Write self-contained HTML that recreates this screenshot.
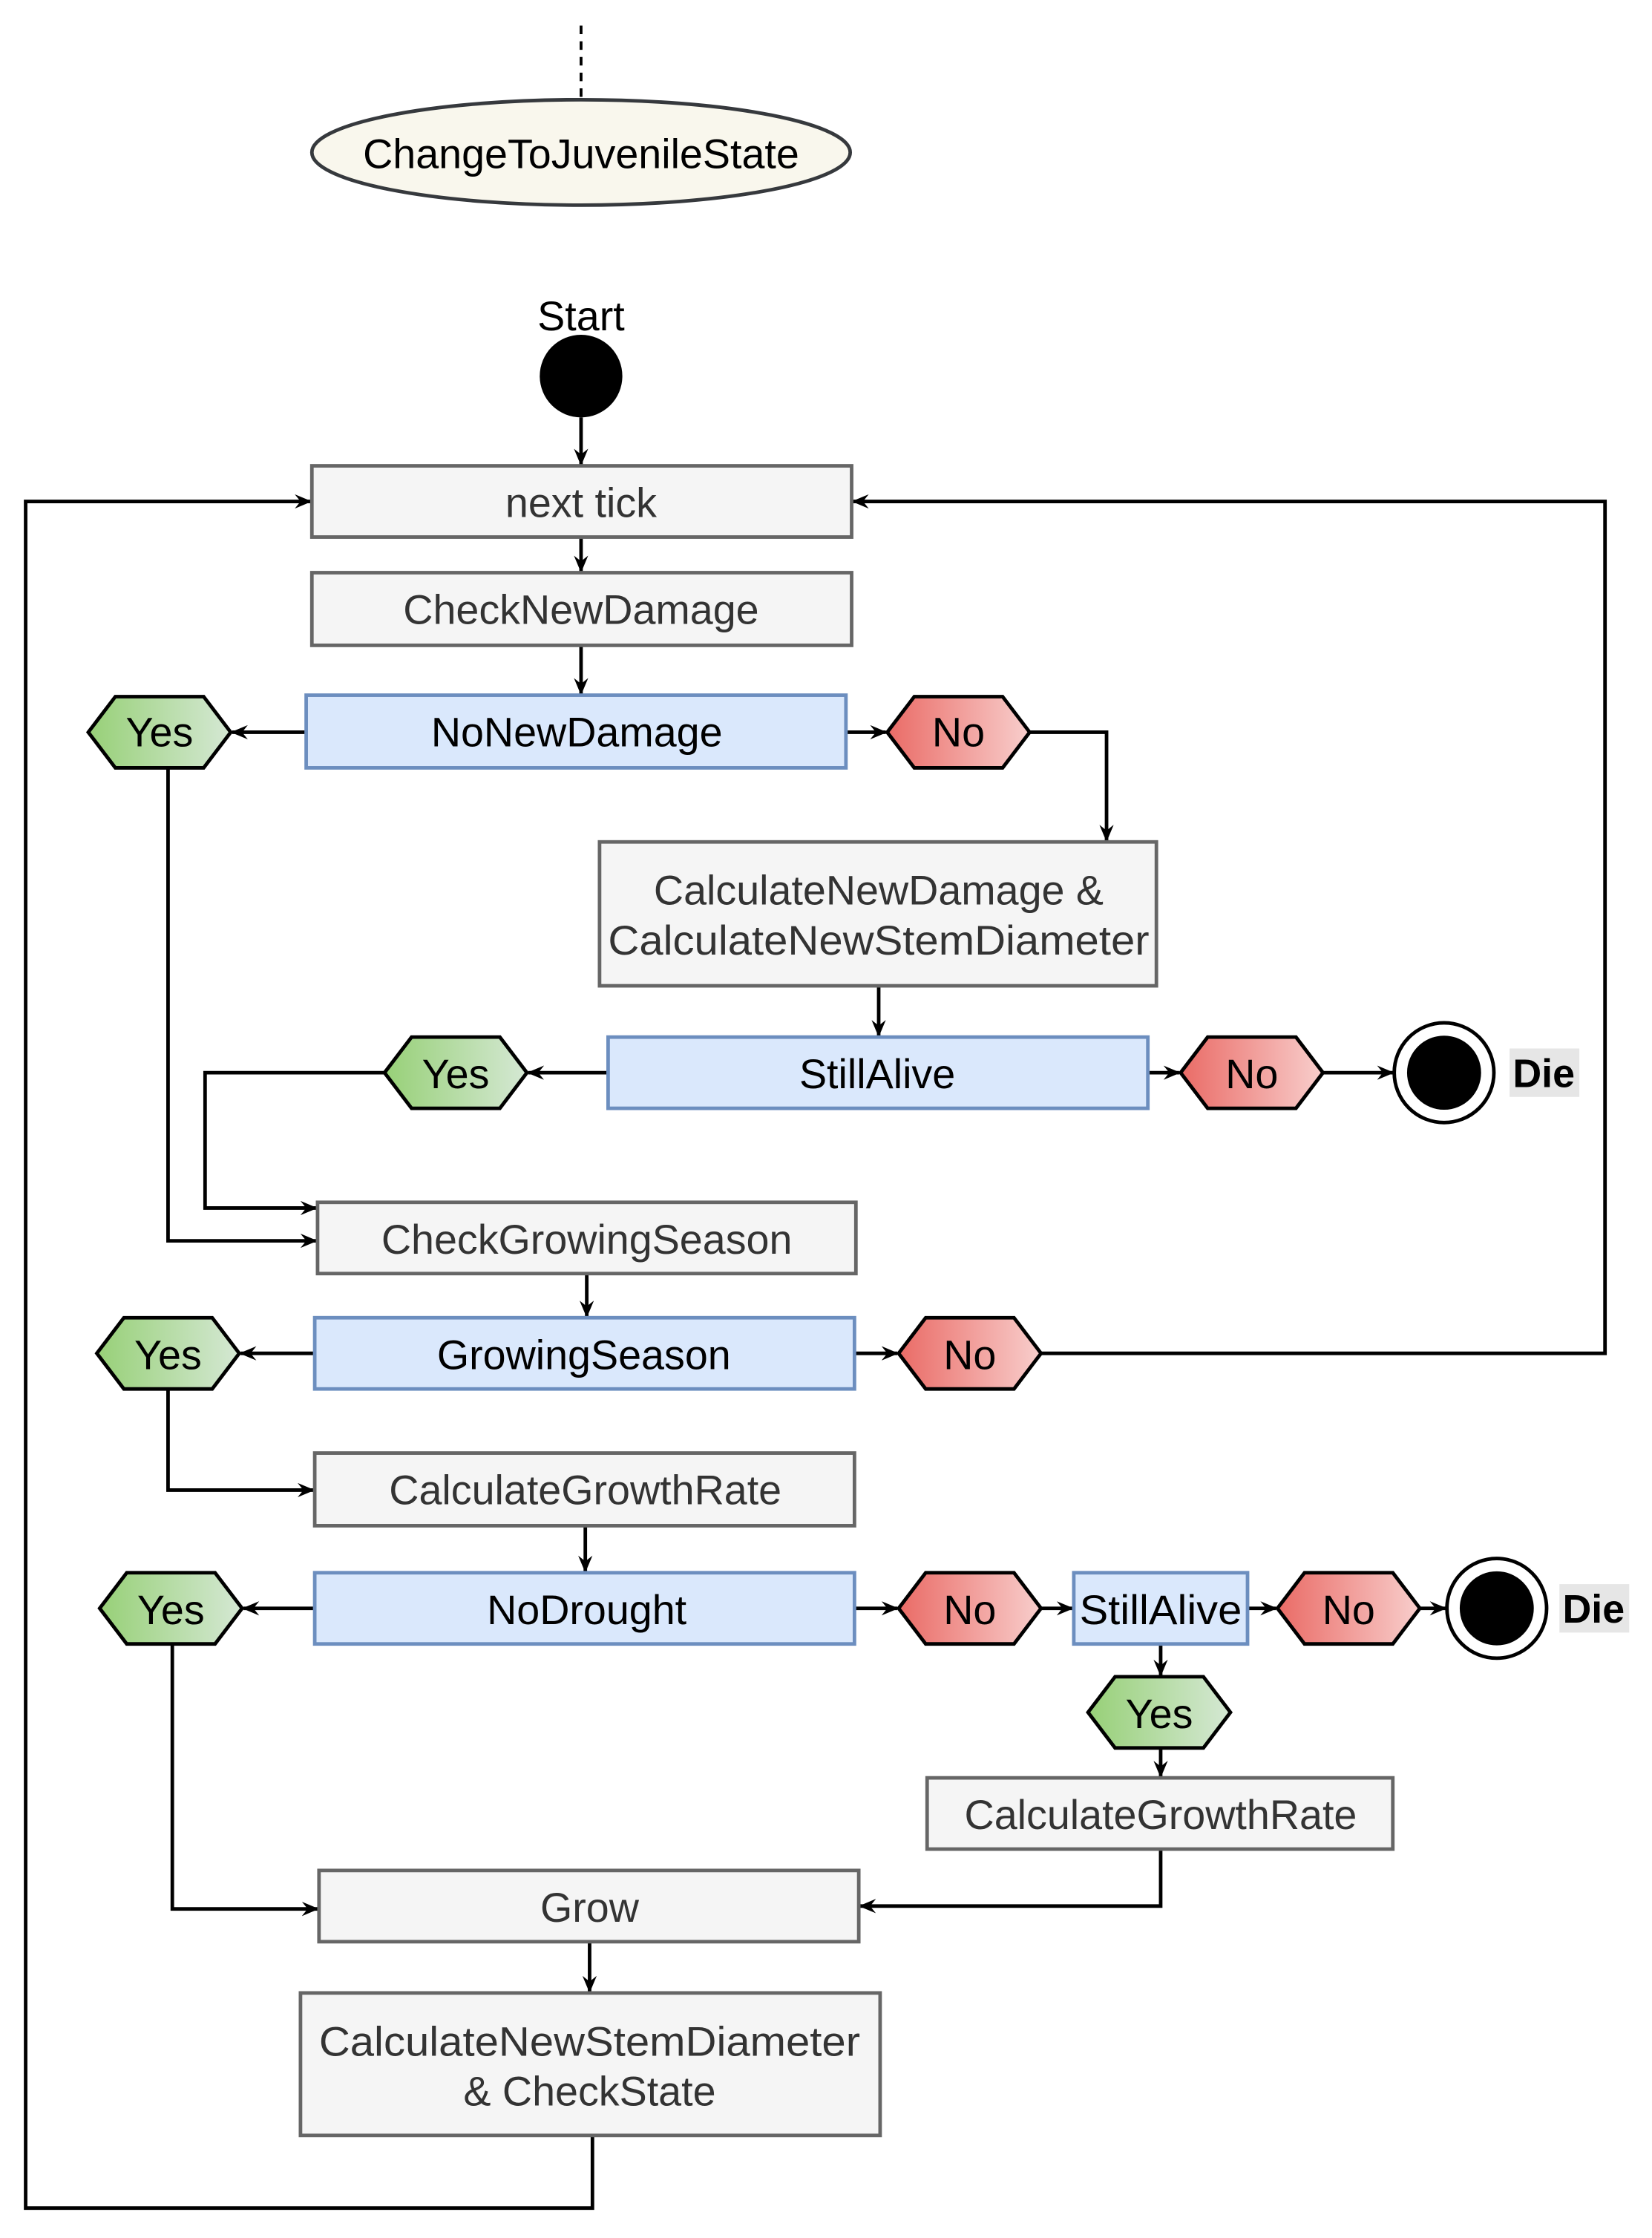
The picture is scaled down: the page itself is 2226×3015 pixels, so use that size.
<!DOCTYPE html>
<html><head><meta charset="utf-8"><style>
html,body{margin:0;padding:0;background:#fff;}
svg{display:block;}
text{font-family:"Liberation Sans",Arial,sans-serif;}
</style></head><body>
<svg width="2226" height="3015" viewBox="0 0 1160 1571" preserveAspectRatio="none" xmlns="http://www.w3.org/2000/svg">
<defs>
<linearGradient id="g" x1="0" y1="0" x2="1" y2="0"><stop offset="0" stop-color="#97d077"/><stop offset="1" stop-color="#d5e8d4"/></linearGradient>
<linearGradient id="r" x1="0" y1="0" x2="1" y2="0"><stop offset="0" stop-color="#ea6b66"/><stop offset="1" stop-color="#f8cecc"/></linearGradient>
<marker id="a" viewBox="0 0 12 10" refX="11" refY="5" markerWidth="12" markerHeight="10" markerUnits="userSpaceOnUse" orient="auto"><path d="M0,0 L12,5 L0,10 L4,5 Z" fill="#000"/></marker>
</defs>
<g stroke="#000" stroke-width="2" fill="none">
<line x1="408" y1="18" x2="408" y2="68" stroke-dasharray="6,5"/>
</g>
<ellipse cx="408" cy="107" rx="189" ry="37" fill="#f9f7ed" stroke="#36393d" stroke-width="2.5"/>
<text x="408" y="118" font-size="29" text-anchor="middle" fill="#000">ChangeToJuvenileState</text>
<text x="408" y="232" font-size="29" text-anchor="middle" fill="#000">Start</text>
<circle cx="408" cy="264" r="29" fill="#000"/>

<!-- connectors -->
<g stroke="#000" stroke-width="2.5" fill="none" marker-end="url(#a)">
<line x1="408" y1="293" x2="408" y2="326"/>
<line x1="408" y1="377" x2="408" y2="401"/>
<line x1="408" y1="453" x2="408" y2="487"/>
<line x1="215" y1="514" x2="163" y2="514"/>
<line x1="594" y1="514" x2="622" y2="514"/>
<polyline points="723,514 777,514 777,590"/>
<line x1="617" y1="692" x2="617" y2="727"/>
<line x1="427" y1="753" x2="371" y2="753"/>
<line x1="806" y1="753" x2="828" y2="753"/>
<line x1="929" y1="753" x2="978" y2="753"/>
<polyline points="118,539 118,871 222,871"/>
<polyline points="270,753 144,753 144,848 222,848"/>
<line x1="412" y1="894" x2="412" y2="924"/>
<line x1="221" y1="950" x2="169" y2="950"/>
<line x1="600" y1="950" x2="630" y2="950"/>
<polyline points="731,950 1127,950 1127,352 599,352"/>
<polyline points="416,1499 416,1550 18,1550 18,352 218,352"/>
<polyline points="118,975 118,1046 220,1046"/>
<line x1="411" y1="1071" x2="411" y2="1103"/>
<line x1="221" y1="1129" x2="171" y2="1129"/>
<line x1="600" y1="1129" x2="630" y2="1129"/>
<line x1="731" y1="1129" x2="753" y2="1129"/>
<line x1="876" y1="1129" x2="896" y2="1129"/>
<line x1="997" y1="1129" x2="1015" y2="1129"/>
<line x1="815" y1="1154" x2="815" y2="1176"/>
<line x1="815" y1="1227" x2="815" y2="1247"/>
<polyline points="815,1298 815,1338 604,1338"/>
<polyline points="121,1154 121,1340 223,1340"/>
<line x1="414" y1="1363" x2="414" y2="1398"/>
</g>

<!-- gray boxes -->
<g fill="#f5f5f5" stroke="#666" stroke-width="2.5">
<rect x="219" y="327" width="379" height="50"/>
<rect x="219" y="402" width="379" height="51"/>
<rect x="421" y="591" width="391" height="101"/>
<rect x="223" y="844" width="378" height="50"/>
<rect x="221" y="1020" width="379" height="51"/>
<rect x="651" y="1248" width="327" height="50"/>
<rect x="224" y="1313" width="379" height="50"/>
<rect x="211" y="1399" width="407" height="100"/>
</g>
<g fill="#333" font-size="29" text-anchor="middle">
<text x="408" y="363">next tick</text>
<text x="408" y="438">CheckNewDamage</text>
<text x="617" y="635">CalculateNewDamage &amp;</text>
<text x="617" y="670" textLength="380" lengthAdjust="spacingAndGlyphs">CalculateNewStemDiameter</text>
<text x="412" y="880">CheckGrowingSeason</text>
<text x="411" y="1056">CalculateGrowthRate</text>
<text x="815" y="1284">CalculateGrowthRate</text>
<text x="414" y="1349">Grow</text>
<text x="414" y="1443" textLength="380" lengthAdjust="spacingAndGlyphs">CalculateNewStemDiameter</text>
<text x="414" y="1478">&amp; CheckState</text>
</g>

<!-- blue boxes -->
<g fill="#dae8fc" stroke="#6c8ebf" stroke-width="2.5">
<rect x="215" y="488" width="379" height="51"/>
<rect x="427" y="728" width="379" height="50"/>
<rect x="221" y="925" width="379" height="50"/>
<rect x="221" y="1104" width="379" height="50"/>
<rect x="754" y="1104" width="122" height="50"/>
</g>
<g fill="#000" font-size="29" text-anchor="middle">
<text x="405" y="524">NoNewDamage</text>
<text x="616" y="764">StillAlive</text>
<text x="410" y="961">GrowingSeason</text>
<text x="412" y="1140">NoDrought</text>
<text x="815" y="1140" textLength="114" lengthAdjust="spacingAndGlyphs">StillAlive</text>
</g>

<!-- hexagons -->
<g stroke="#000" stroke-width="2.5">
<polygon fill="url(#g)" points="62,514 81,489 143,489 162,514 143,539 81,539"/>
<polygon fill="url(#r)" points="623,514 642,489 704,489 723,514 704,539 642,539"/>
<polygon fill="url(#g)" points="270,753 289,728 351,728 370,753 351,778 289,778"/>
<polygon fill="url(#r)" points="829,753 848,728 910,728 929,753 910,778 848,778"/>
<polygon fill="url(#g)" points="68,950 87,925 149,925 168,950 149,975 87,975"/>
<polygon fill="url(#r)" points="631,950 650,925 712,925 731,950 712,975 650,975"/>
<polygon fill="url(#g)" points="70,1129 89,1104 151,1104 170,1129 151,1154 89,1154"/>
<polygon fill="url(#r)" points="631,1129 650,1104 712,1104 731,1129 712,1154 650,1154"/>
<polygon fill="url(#r)" points="897,1129 916,1104 978,1104 997,1129 978,1154 916,1154"/>
<polygon fill="url(#g)" points="764,1202 783,1177 845,1177 864,1202 845,1227 783,1227"/>
</g>
<g fill="#000" font-size="29" text-anchor="middle">
<text x="112" y="524">Yes</text>
<text x="673" y="524">No</text>
<text x="320" y="764">Yes</text>
<text x="879" y="764">No</text>
<text x="118" y="961">Yes</text>
<text x="681" y="961">No</text>
<text x="120" y="1140">Yes</text>
<text x="681" y="1140">No</text>
<text x="947" y="1140">No</text>
<text x="814" y="1213">Yes</text>
</g>

<!-- end states -->
<circle cx="1014" cy="753" r="35" fill="#fff" stroke="#000" stroke-width="2.5"/>
<circle cx="1014" cy="753" r="26" fill="#000"/>
<rect x="1060" y="736" width="49" height="34" fill="#e6e6e6"/>
<text x="1084" y="763" font-size="28" font-weight="bold" text-anchor="middle">Die</text>
<circle cx="1051" cy="1129" r="35" fill="#fff" stroke="#000" stroke-width="2.5"/>
<circle cx="1051" cy="1129" r="26" fill="#000"/>
<rect x="1095" y="1112" width="49" height="34" fill="#e6e6e6"/>
<text x="1119" y="1139" font-size="28" font-weight="bold" text-anchor="middle">Die</text>
</svg>
</body></html>
